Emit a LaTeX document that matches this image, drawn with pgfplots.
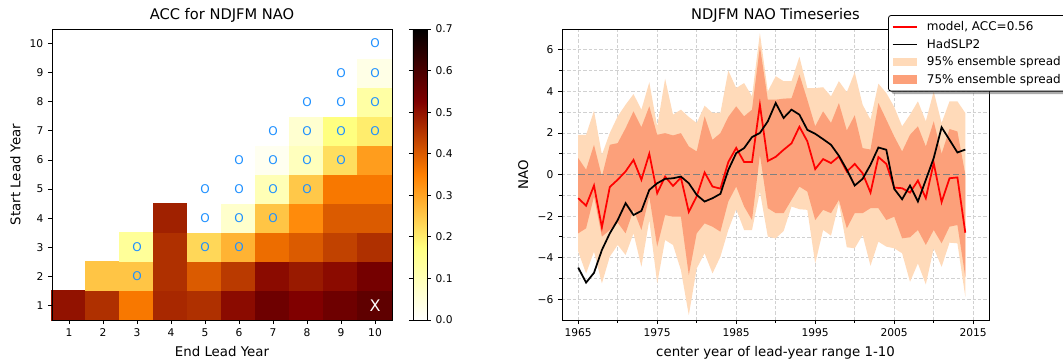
\documentclass[border=0pt]{standalone}
\usepackage{fontspec}
\setmainfont{DejaVu Sans}
\usepackage{pgfplots}
\pgfplotsset{compat=1.18}
\usepackage{pgfplotstable}
\usepgfplotslibrary{fillbetween}
\usetikzlibrary{shadows}
\definecolor{dodger}{RGB}{30,144,255}
\definecolor{peach}{RGB}{255,218,185}
\definecolor{salmonl}{RGB}{252,160,122}

\pgfplotstableread{
x y v
1 1 0.50
2 1 0.46
3 1 0.36
4 1 0.47
5 1 0.46
6 1 0.51
7 1 0.55
8 1 0.525
9 1 0.55
10 1 0.57
2 2 0.255
3 2 0.255
4 2 0.46
5 2 0.40
6 2 0.445
7 2 0.51
8 2 0.49
9 2 0.51
10 2 0.54
3 3 0.14
4 3 0.46
5 3 0.23
6 3 0.28
7 3 0.375
8 3 0.40
9 3 0.435
10 3 0.46
4 4 0.48
5 4 0.0
6 4 0.07
7 4 0.255
8 4 0.335
9 4 0.40
10 4 0.40
5 5 0.0
6 5 0.0
7 5 0.10
8 5 0.25
9 5 0.36
10 5 0.36
6 6 0.0
7 6 0.02
8 6 0.09
9 6 0.22
10 6 0.31
7 7 0.0
8 7 0.065
9 7 0.175
10 7 0.20
8 8 0.0
9 8 0.0
10 8 0.125
9 9 0.0
10 9 0.035
10 10 0.0
}\accdata

\pgfplotstableread{
x y
3 2
3 3
5 3
6 3
5 4
6 4
7 4
5 5
6 5
7 5
8 5
6 6
7 6
8 6
9 6
7 7
8 7
9 7
10 7
8 8
9 8
10 8
9 9
10 9
10 10
}\sigdata

\pgfplotstableread{
year model obs lo95 hi95 lo75 hi75
1965 -1.14 -4.48 -3.71 1.91 -2.83 0.79
1966 -1.50 -5.20 -4.76 1.91 -2.59 0.23
1967 -0.53 -4.73 -3.71 3.07 -1.06 1.43
1968 -2.54 -3.63 -5.24 0.95 -2.99 -0.10
1969 -0.60 -2.83 -3.95 2.00 -2.67 1.43
1970 -0.25 -2.19 -3.39 2.80 -2.32 1.51
1971 0.15 -1.38 -3.87 3.36 -2.83 2.23
1972 0.70 -1.95 -2.83 3.87 -1.70 3.04
1973 -0.25 -1.75 -4.44 3.12 -2.67 2.28
1974 1.00 -0.74 -2.19 4.44 -1.06 3.28
1975 -0.90 -0.42 -5.24 2.31 -3.47 1.91
1976 -0.10 -0.21 -3.15 4.61 -1.95 1.99
1977 -0.55 -0.18 -3.39 2.88 -2.03 1.88
1978 -0.15 -0.10 -4.60 3.12 -2.03 1.99
1979 -1.80 -0.42 -6.77 2.77 -4.84 1.35
1980 -1.05 -0.98 -4.52 2.48 -2.83 1.11
1981 0.10 -1.30 -3.79 3.31 -2.35 2.80
1982 -0.58 -1.14 -4.76 2.96 -2.51 1.67
1983 -0.68 -0.93 -3.95 2.96 -2.75 1.99
1984 0.60 0.22 -2.67 5.00 -1.30 2.77
1985 1.28 1.03 -1.67 4.16 -0.58 3.28
1986 0.60 1.27 -2.67 4.40 -1.54 2.80
1987 0.60 1.80 -2.67 3.76 -2.19 3.12
1988 3.35 2.00 -0.82 6.80 0.95 6.17
1989 0.65 2.56 -2.99 4.00 -1.62 3.60
1990 0.85 3.44 -3.07 4.73 -1.86 3.60
1991 1.19 2.72 -2.72 4.49 -1.86 3.65
1992 1.50 3.12 -1.54 4.49 -1.22 3.67
1993 2.30 2.88 -1.67 5.66 -0.58 4.81
1994 1.60 2.15 -1.70 4.16 -0.82 3.60
1995 0.26 1.96 -4.28 4.16 -2.19 2.32
1996 0.74 1.70 -2.67 4.20 -1.70 3.04
1997 0.55 1.43 -2.94 3.76 -1.86 2.48
1998 0.87 0.90 -1.38 4.49 -1.22 3.44
1999 0.14 0.23 -3.50 3.96 -2.59 2.12
2000 0.51 -0.53 -3.55 4.92 -1.86 2.85
2001 0.06 -0.21 -2.91 3.36 -1.86 1.27
2002 -0.87 0.47 -4.39 2.64 -1.62 1.20
2003 0.84 1.30 -3.23 4.37 -1.62 3.44
2004 0.51 1.19 -3.47 3.92 -2.19 2.64
2005 -0.63 -0.69 -3.55 3.25 -2.03 1.83
2006 -0.66 -1.19 -3.79 2.32 -3.07 1.11
2007 -0.87 -0.53 -5.16 2.88 -3.02 1.91
2008 -0.29 -1.30 -4.28 3.52 -2.67 2.32
2009 -1.14 -0.26 -5.29 2.56 -3.39 1.35
2010 0.55 0.79 -3.55 4.00 -2.67 2.56
2011 -1.33 2.27 -4.44 2.48 -3.31 1.00
2012 -0.18 1.67 -3.28 3.52 -2.51 2.19
2013 -0.14 1.06 -3.31 3.52 -2.43 2.07
2014 -2.80 1.20 -5.88 2.96 -4.92 0.00
}\tsdata

\pgfplotsset{
  /pgf/number format/assume math mode=true,
  every axis/.append style={
    tick label style={font=\fontsize{8}{9}\selectfont},
    label style={font=\fontsize{10}{12}\selectfont},
    title style={font=\fontsize{11}{13}\selectfont, yshift=-4.6pt},
    axis line style={line width=0.6pt},
    tick style={line width=0.6pt, black},
    major tick length=3pt,
    minor tick length=2pt,
  },
}

% legend images drawn on the basic layer, so no TikZ preaction (shadow) reaches them
\newcommand\legline[1]{%
  \pgfsetcornersarced{\pgfpointorigin}\pgfsetdash{}{0pt}%
  \pgfsetstrokecolor{#1}\pgfsetlinewidth{1.4pt}%
  \pgfpathmoveto{\pgfpoint{0pt}{0pt}}\pgfpathlineto{\pgfpoint{18.5pt}{0pt}}%
  \pgfusepath{stroke}}
\newcommand\legbox[1]{%
  \pgfsetcornersarced{\pgfpointorigin}%
  \pgfsetfillcolor{#1}%
  \pgfpathrectangle{\pgfpoint{0pt}{-3.2pt}}{\pgfpoint{18.5pt}{6.4pt}}%
  \pgfusepath{fill}}

\begin{document}
\begin{tikzpicture}
% ---------- heatmap ----------
\begin{axis}[
  at={(39pt,30.75pt)}, anchor=south west,
  width=255pt, height=218.25pt, scale only axis,
  xmin=0.5, xmax=10.5, ymin=0.5, ymax=10.5,
  xtick={1,...,10}, ytick={1,...,10},
  tick pos=left, tick align=outside,
  axis on top, clip marker paths=true,
  title={ACC for NDJFM NAO},
  xlabel={End Lead Year}, ylabel={Start Lead Year},
  colormap={afmhotr}{rgb=(1,1,1) rgb=(1,1,0.5) rgb=(1,0.5,0) rgb=(0.5,0,0) rgb=(0,0,0)},
  point meta min=0, point meta max=0.7,
  colorbar,
  colorbar style={
    width=10.5pt,
    at={(parent axis.north east)}, anchor=north west, xshift=7.2pt,
    ytick={0,0.1,0.2,0.3,0.4,0.5,0.6,0.7},
    yticklabel style={/pgf/number format/.cd, fixed, fixed zerofill, precision=1},
    tick align=outside,
    tick label style={font=\fontsize{8}{9}\selectfont},
  },
]
\addplot[scatter, only marks, mark=square*, mark size=10.96pt,
  point meta=explicit,
  scatter/use mapped color={draw=mapped color, fill=mapped color},
  mark options={xscale=1.1684, line width=0pt}]
  table[x=x, y=y, meta=v]{\accdata};
\addplot[draw=none, mark=none, nodes near coords={O},
  every node near coord/.append style={anchor=center, text=dodger, inner sep=0pt,
    font=\fontsize{9}{10}\selectfont}]
  table[x=x, y=y]{\sigdata};
\addplot[draw=none, mark=none, nodes near coords={X},
  every node near coord/.append style={anchor=center, text=white, inner sep=0pt,
    font=\fontsize{12}{13}\selectfont}]
  coordinates {(10,1)};
% axis frame redrawn over the cells
\draw[line width=0.6pt] (rel axis cs:0,0) rectangle (rel axis cs:1,1);
\end{axis}

% ---------- timeseries ----------
\begin{axis}[
  at={(421.5pt,30.75pt)}, anchor=south west,
  width=320.25pt, height=218.25pt, scale only axis,
  set layers,
  xmin=1962.95, xmax=2017, ymin=-7, ymax=7,
  xtick={1965,1975,1985,1995,2005,2015},
  minor xtick={1970,1980,1990,2000,2010},
  ytick={-6,-4,-2,0,2,4,6},
  yticklabels={−6,−4,−2,0,2,4,6},
  minor ytick={-5,-3,-1,1,3,5},
  xticklabel style={/pgf/number format/1000 sep={}},
  grid=both,
  major grid style={dash pattern=on 2.5pt off 1.5pt, black!18, line width=0.5pt},
  minor grid style={dash pattern=on 2.5pt off 1.5pt, black!18, line width=0.5pt},
  tick align=outside, tick pos=left,
  title={NDJFM NAO Timeseries},
  xlabel={center year of lead-year range 1-10}, ylabel={NAO},
  legend style={
    at={(0.7635,1.048)}, anchor=north west,
    font=\fontsize{9}{10}\selectfont,
    draw=black, line width=0.6pt, fill=white, rounded corners=2pt,
    drop shadow={shadow xshift=2.2pt, shadow yshift=-2.2pt, fill=black!65},
    inner sep=2.5pt, row sep=0.8pt,
    /tikz/every odd column/.append style={column sep=4.5pt},
  },
  legend cell align=left,
]
\addplot[name path=hi95, draw=none, forget plot] table[x=year, y=hi95]{\tsdata};
\addplot[name path=lo95, draw=none, forget plot] table[x=year, y=lo95]{\tsdata};
\addplot[fill=peach, draw=none, forget plot, on layer=axis background] fill between[of=hi95 and lo95];
\addplot[name path=hi75, draw=none, forget plot] table[x=year, y=hi75]{\tsdata};
\addplot[name path=lo75, draw=none, forget plot] table[x=year, y=lo75]{\tsdata};
\addplot[fill=salmonl, draw=none, forget plot, on layer=axis background] fill between[of=hi75 and lo75];
\addplot[black!50, line width=1.4pt, dash pattern=on 5pt off 2.2pt, forget plot]
  coordinates {(1965,0) (2014,0)};
\addplot[red, line width=1.3pt, forget plot] table[x=year, y=model]{\tsdata};
\addplot[black, line width=1.3pt, forget plot] table[x=year, y=obs]{\tsdata};

\addlegendimage{legend image code/.code={\legline{red}}}
\addlegendentry{model, ACC=0.56}
\addlegendimage{legend image code/.code={\legline{black}}}
\addlegendentry{HadSLP2}
\addlegendimage{legend image code/.code={\legbox{peach}}}
\addlegendentry{95\% ensemble spread}
\addlegendimage{legend image code/.code={\legbox{salmonl}}}
\addlegendentry{75\% ensemble spread}
\end{axis}
\pgfresetboundingbox
\path[use as bounding box] (0,0) rectangle (797.25pt,270.75pt);
\end{tikzpicture}
\end{document}
